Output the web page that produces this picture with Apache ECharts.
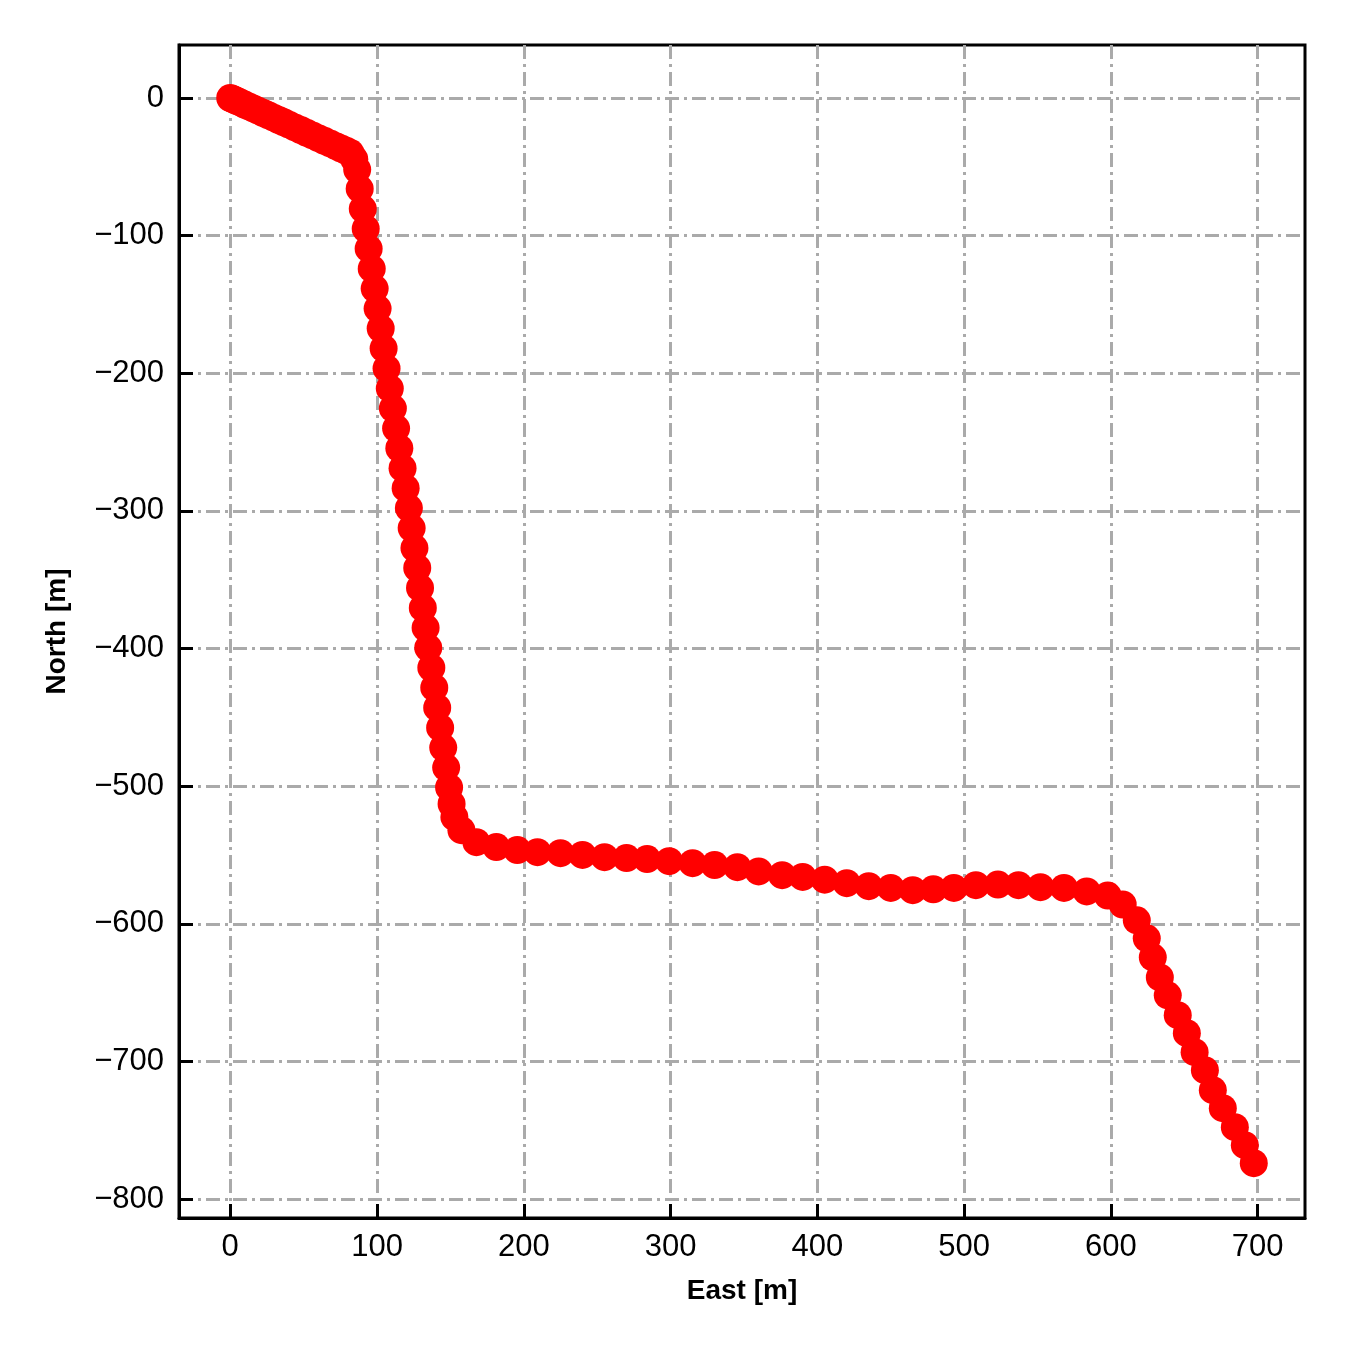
<!DOCTYPE html>
<html>
<head>
<meta charset="utf-8">
<script src="https://cdn.jsdelivr.net/npm/echarts@6/dist/echarts.min.js"></script>
<style>
html,body{margin:0;padding:0;background:#fff;}
#chart{width:1350px;height:1350px;}
</style>
</head>
<body>
<div id="chart"></div>
<script>
// Trajectory: East [m] and North [m]
var east = [
  0, 1.5, 3, 5, 7.5, 10, 13, 16, 19, 22.5, 26, 29.5, 33, 36.5, 40, 44, 48, 52, 56, 60, 64, 68, 72, 75.5, 79, 82,
  84.5, 86.5,
  88.2, 90.3, 92.3, 94.3, 96.4, 98.4, 100.4, 102.5, 104.5, 106.5, 108.7, 110.8, 113, 115.2, 117.4, 119.5, 121.7,
  123.6, 125.5, 127.4, 129.3, 131.2, 133.1, 134.9, 137, 139, 141, 143, 145.1, 147.1, 149.1, 150.8,
  152.7, 157.5, 167.7, 181.3, 195.6, 209.3, 225, 240, 255, 270, 284, 299, 315, 330, 345.5, 360, 376, 390, 405,
  420, 435, 450, 465, 479, 493, 508, 523, 537, 552, 568, 583.5, 597.8,
  608, 617.6, 624.4, 628.5, 633.3, 638.7, 645.5, 651.7, 657, 664, 669.4, 676.2, 684.4, 691.2, 697.3
];
var north = [
  0, -0.7, -1.5, -2.4, -3.6, -4.9, -6.3, -7.8, -9.2, -10.9, -12.6, -14.3, -16.0, -17.7, -19.4, -21.4, -23.3, -25.3, -27.2, -29.2, -31.1, -33.0, -35.0, -36.7, -38.4, -40.0,
  -44.5, -52,
  -66, -80.5, -95, -109.5, -124, -138.5, -153, -167.5, -182, -196.5, -211, -225.5, -240, -254.5, -269, -283.5, -298,
  -312.5, -327, -341.5, -356, -370.5, -385, -399.5, -414, -428.5, -443, -457.5, -472, -486.5, -501, -513,
  -522.5, -532, -540.7, -544.3, -546.5, -548, -548.7, -550, -551.6, -552.3, -553, -554.5, -556, -557.4, -558.9, -562, -564.7, -566, -568,
  -570.5, -572.7, -574, -575.6, -575, -574, -572, -571.5, -572, -573.4, -574, -576.5, -579.5,
  -586, -597.5, -610.6, -624.4, -639, -652, -666.4, -679.5, -693.3, -706.4, -720.9, -734, -747.8, -760.9, -774
];
var xTicks = [0, 100, 200, 300, 400, 500, 600, 700];
var yTicks = [0, -100, -200, -300, -400, -500, -600, -700, -800];

var pts = east.map(function (e, i) { return [e, north[i]]; });
var FONT = '"Liberation Sans", Arial, sans-serif';
function minus(v) { return String(v).replace('-', '\u2212'); }

var gridLine = { show: true, lineStyle: { color: '#aaaaaa', width: 3, type: [14, 5, 3, 5] } };

var chart = echarts.init(document.getElementById('chart'), null, { renderer: 'canvas' });
chart.setOption({
  animation: false,
  backgroundColor: '#ffffff',
  grid: { left: 179, right: 45, top: 45, bottom: 132, show: true, borderColor: '#000', borderWidth: 3, backgroundColor: 'transparent' },
  xAxis: {
    type: 'value', min: -34.9, max: 732.2,
    name: 'East [m]', nameLocation: 'middle', nameGap: 59,
    nameTextStyle: { fontFamily: FONT, fontSize: 28, fontWeight: 'bold', color: '#000' },
    axisLine: { show: true, onZero: false, lineStyle: { color: '#000', width: 3 } },
    axisTick: { show: true, inside: true, length: 14, customValues: xTicks, lineStyle: { color: '#000', width: 3 } },
    axisLabel: { show: true, customValues: xTicks, margin: 14, fontFamily: FONT, fontSize: 31, color: '#000', formatter: minus },
    splitLine: gridLine
  },
  yAxis: {
    type: 'value', min: -813.8, max: 38.5,
    name: 'North [m]', nameLocation: 'middle', nameGap: 108, nameRotate: 90,
    nameTextStyle: { fontFamily: FONT, fontSize: 28, fontWeight: 'bold', color: '#000' },
    axisLine: { show: true, onZero: false, lineStyle: { color: '#000', width: 3 } },
    axisTick: { show: true, inside: true, length: 14, customValues: yTicks, lineStyle: { color: '#000', width: 3 } },
    axisLabel: { show: true, customValues: yTicks, margin: 15, fontFamily: FONT, fontSize: 31, color: '#000', formatter: minus },
    splitLine: gridLine
  },
  series: [{
    type: 'line',
    data: pts,
    symbol: 'circle',
    symbolSize: 28,
    showAllSymbol: true,
    clip: false,
    itemStyle: { color: '#ff0000', borderWidth: 0 },
    lineStyle: { color: '#ff0000', width: 8 },
    emphasis: { disabled: true }
  }]
});
</script>
</body>
</html>
